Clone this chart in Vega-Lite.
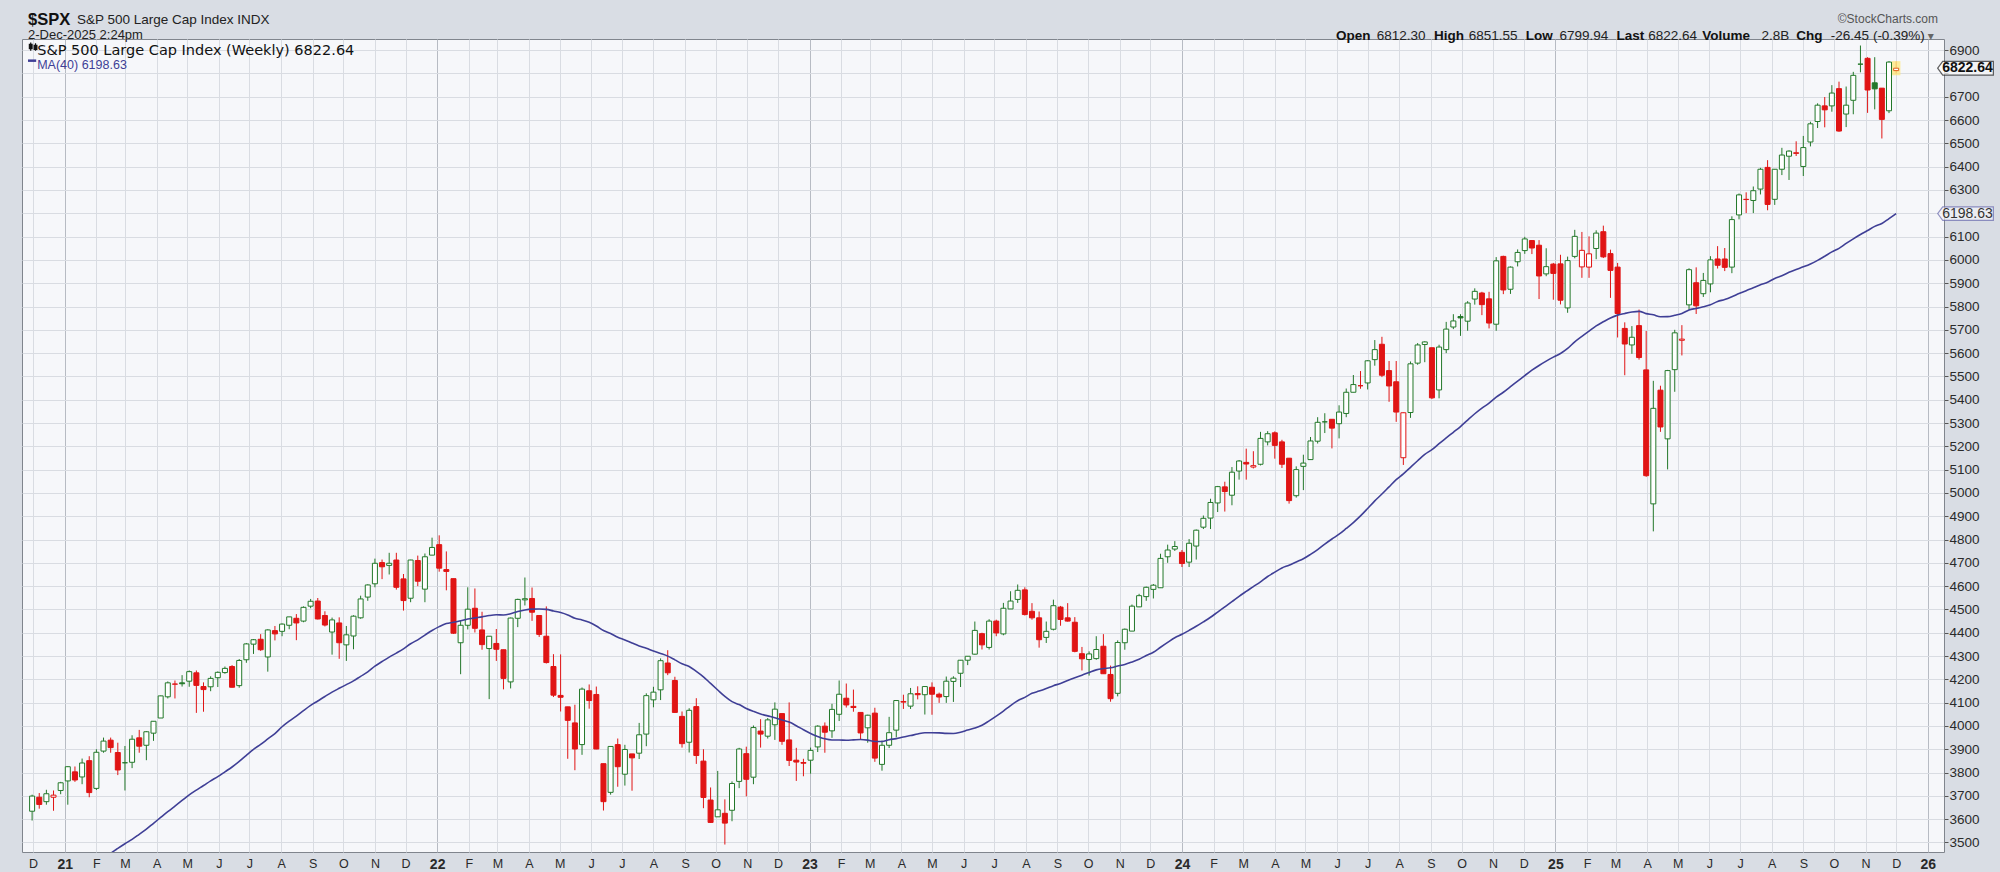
{
  "$schema": "https://vega.github.io/schema/vega-lite/v6.json",
  "width": 1922,
  "height": 813,
  "autosize": "none",
  "padding": {"left": 22, "top": 39, "right": 56, "bottom": 20},
  "background": "#d9dde4",
  "config": {
    "view": {"fill": "#f6f7fa", "stroke": "#80858d", "strokeWidth": 1},
    "font": "Liberation Sans",
    "text": {"font": "Liberation Sans"},
    "axisY": {"format": "d", "tickCount": 35, "labelOverlap": false, "labelExpr": "datum.value == 6800 || datum.value == 6200 ? '' : datum.label"},
    "axisX": {"labelOverlap": false}
  },
  "datasets": {
    "spx": [
      {"d":"2020-11-30","o":3634,"h":3705,"l":3594,"c":3699},
      {"d":"2020-12-07","o":3694,"h":3712,"l":3645,"c":3663},
      {"d":"2020-12-14","o":3675,"h":3726,"l":3662,"c":3709},
      {"d":"2020-12-21","o":3694,"h":3723,"l":3636,"c":3703},
      {"d":"2020-12-28","o":3723,"h":3760,"l":3707,"c":3756},
      {"d":"2021-01-04","o":3764,"h":3827,"l":3662,"c":3825},
      {"d":"2021-01-11","o":3803,"h":3826,"l":3760,"c":3768},
      {"d":"2021-01-18","o":3781,"h":3860,"l":3750,"c":3841},
      {"d":"2021-01-25","o":3851,"h":3870,"l":3694,"c":3714},
      {"d":"2021-02-01","o":3732,"h":3900,"l":3725,"c":3887},
      {"d":"2021-02-08","o":3892,"h":3950,"l":3885,"c":3935,"ma":3427.0},
      {"d":"2021-02-15","o":3939,"h":3950,"l":3885,"c":3907,"ma":3453.1},
      {"d":"2021-02-22","o":3886,"h":3928,"l":3789,"c":3811,"ma":3474.5},
      {"d":"2021-03-01","o":3842,"h":3914,"l":3723,"c":3842,"ma":3494.4},
      {"d":"2021-03-08","o":3844,"h":3960,"l":3819,"c":3943,"ma":3513.2},
      {"d":"2021-03-15","o":3949,"h":3983,"l":3885,"c":3913,"ma":3535.0},
      {"d":"2021-03-22","o":3917,"h":3978,"l":3853,"c":3975,"ma":3556.9},
      {"d":"2021-03-29","o":3969,"h":4020,"l":3936,"c":4020,"ma":3582.2},
      {"d":"2021-04-05","o":4034,"h":4130,"l":4034,"c":4129,"ma":3607.1},
      {"d":"2021-04-12","o":4125,"h":4191,"l":4118,"c":4185,"ma":3632.1},
      {"d":"2021-04-19","o":4179,"h":4195,"l":4118,"c":4180,"ma":3656.0},
      {"d":"2021-04-26","o":4185,"h":4218,"l":4169,"c":4181,"ma":3680.1},
      {"d":"2021-05-03","o":4192,"h":4238,"l":4168,"c":4233,"ma":3704.2},
      {"d":"2021-05-10","o":4228,"h":4238,"l":4056,"c":4174,"ma":3724.8},
      {"d":"2021-05-17","o":4169,"h":4187,"l":4061,"c":4156,"ma":3744.3},
      {"d":"2021-05-24","o":4168,"h":4213,"l":4149,"c":4204,"ma":3764.5},
      {"d":"2021-05-31","o":4207,"h":4234,"l":4167,"c":4230,"ma":3782.6},
      {"d":"2021-06-07","o":4229,"h":4255,"l":4224,"c":4247,"ma":3803.1},
      {"d":"2021-06-14","o":4255,"h":4261,"l":4165,"c":4166,"ma":3823.7},
      {"d":"2021-06-21","o":4173,"h":4287,"l":4164,"c":4281,"ma":3847.7},
      {"d":"2021-06-28","o":4284,"h":4356,"l":4271,"c":4352,"ma":3874.1},
      {"d":"2021-07-05","o":4351,"h":4373,"l":4309,"c":4370,"ma":3899.6},
      {"d":"2021-07-12","o":4372,"h":4394,"l":4322,"c":4327,"ma":3920.9},
      {"d":"2021-07-19","o":4296,"h":4415,"l":4233,"c":4412,"ma":3944.1},
      {"d":"2021-07-26","o":4409,"h":4429,"l":4367,"c":4395,"ma":3967.3},
      {"d":"2021-08-02","o":4406,"h":4440,"l":4385,"c":4437,"ma":3996.5},
      {"d":"2021-08-09","o":4432,"h":4468,"l":4415,"c":4468,"ma":4020.5},
      {"d":"2021-08-16","o":4462,"h":4480,"l":4368,"c":4442,"ma":4041.9},
      {"d":"2021-08-23","o":4450,"h":4513,"l":4445,"c":4509,"ma":4065.7},
      {"d":"2021-08-30","o":4514,"h":4545,"l":4505,"c":4535,"ma":4088.1},
      {"d":"2021-09-06","o":4536,"h":4549,"l":4457,"c":4459,"ma":4107.1},
      {"d":"2021-09-13","o":4474,"h":4492,"l":4427,"c":4433,"ma":4126.4},
      {"d":"2021-09-20","o":4403,"h":4465,"l":4306,"c":4455,"ma":4145.0},
      {"d":"2021-09-27","o":4442,"h":4466,"l":4288,"c":4357,"ma":4161.4},
      {"d":"2021-10-04","o":4348,"h":4429,"l":4279,"c":4391,"ma":4177.2},
      {"d":"2021-10-11","o":4386,"h":4475,"l":4329,"c":4471,"ma":4193.4},
      {"d":"2021-10-18","o":4464,"h":4559,"l":4460,"c":4545,"ma":4212.8},
      {"d":"2021-10-25","o":4553,"h":4608,"l":4537,"c":4605,"ma":4231.9},
      {"d":"2021-11-01","o":4610,"h":4718,"l":4595,"c":4698,"ma":4256.5},
      {"d":"2021-11-08","o":4701,"h":4714,"l":4630,"c":4683,"ma":4276.4},
      {"d":"2021-11-15","o":4689,"h":4743,"l":4650,"c":4698,"ma":4295.5},
      {"d":"2021-11-22","o":4712,"h":4743,"l":4585,"c":4595,"ma":4312.7},
      {"d":"2021-11-29","o":4631,"h":4652,"l":4495,"c":4538,"ma":4330.9},
      {"d":"2021-12-06","o":4548,"h":4713,"l":4531,"c":4712,"ma":4352.6},
      {"d":"2021-12-13","o":4710,"h":4731,"l":4600,"c":4621,"ma":4369.6},
      {"d":"2021-12-20","o":4587,"h":4740,"l":4531,"c":4726,"ma":4389.9},
      {"d":"2021-12-27","o":4733,"h":4808,"l":4733,"c":4766,"ma":4409.7},
      {"d":"2022-01-03","o":4778,"h":4818,"l":4662,"c":4677,"ma":4426.1},
      {"d":"2022-01-10","o":4671,"h":4749,"l":4582,"c":4663,"ma":4439.4},
      {"d":"2022-01-17","o":4632,"h":4632,"l":4395,"c":4398,"ma":4444.8},
      {"d":"2022-01-24","o":4357,"h":4453,"l":4222,"c":4432,"ma":4451.1},
      {"d":"2022-01-31","o":4432,"h":4595,"l":4414,"c":4501,"ma":4459.1},
      {"d":"2022-02-07","o":4505,"h":4590,"l":4401,"c":4419,"ma":4463.7},
      {"d":"2022-02-14","o":4412,"h":4490,"l":4327,"c":4349,"ma":4468.1},
      {"d":"2022-02-21","o":4332,"h":4385,"l":4115,"c":4385,"ma":4473.8},
      {"d":"2022-02-28","o":4354,"h":4416,"l":4279,"c":4329,"ma":4476.9},
      {"d":"2022-03-07","o":4327,"h":4327,"l":4157,"c":4204,"ma":4476.3},
      {"d":"2022-03-14","o":4189,"h":4465,"l":4161,"c":4463,"ma":4481.7},
      {"d":"2022-03-21","o":4462,"h":4546,"l":4424,"c":4543,"ma":4491.1},
      {"d":"2022-03-28","o":4541,"h":4637,"l":4517,"c":4546,"ma":4497.7},
      {"d":"2022-04-04","o":4547,"h":4594,"l":4451,"c":4488,"ma":4501.1},
      {"d":"2022-04-11","o":4474,"h":4474,"l":4382,"c":4393,"ma":4501.7},
      {"d":"2022-04-18","o":4385,"h":4513,"l":4268,"c":4272,"ma":4500.3},
      {"d":"2022-04-25","o":4255,"h":4308,"l":4124,"c":4132,"ma":4493.3},
      {"d":"2022-05-02","o":4131,"h":4307,"l":4062,"c":4123,"ma":4486.5},
      {"d":"2022-05-09","o":4082,"h":4082,"l":3859,"c":4024,"ma":4476.2},
      {"d":"2022-05-16","o":4013,"h":4091,"l":3810,"c":3901,"ma":4462.0},
      {"d":"2022-05-23","o":3920,"h":4165,"l":3876,"c":4158,"ma":4454.9},
      {"d":"2022-05-30","o":4151,"h":4178,"l":4074,"c":4109,"ma":4444.9},
      {"d":"2022-06-06","o":4135,"h":4169,"l":3900,"c":3901,"ma":4429.1},
      {"d":"2022-06-13","o":3838,"h":3838,"l":3637,"c":3675,"ma":4409.5},
      {"d":"2022-06-20","o":3715,"h":3913,"l":3705,"c":3912,"ma":4396.5},
      {"d":"2022-06-27","o":3920,"h":3946,"l":3739,"c":3825,"ma":4380.7},
      {"d":"2022-07-04","o":3793,"h":3919,"l":3744,"c":3899,"ma":4369.3},
      {"d":"2022-07-11","o":3880,"h":3880,"l":3722,"c":3863,"ma":4356.1},
      {"d":"2022-07-18","o":3883,"h":4013,"l":3858,"c":3962,"ma":4343.3},
      {"d":"2022-07-25","o":3965,"h":4140,"l":3913,"c":4130,"ma":4333.0},
      {"d":"2022-08-01","o":4112,"h":4168,"l":4080,"c":4145,"ma":4321.5},
      {"d":"2022-08-08","o":4155,"h":4290,"l":4111,"c":4280,"ma":4311.0},
      {"d":"2022-08-15","o":4270,"h":4325,"l":4218,"c":4228,"ma":4299.6},
      {"d":"2022-08-22","o":4195,"h":4211,"l":4057,"c":4058,"ma":4283.6},
      {"d":"2022-08-29","o":4041,"h":4062,"l":3907,"c":3924,"ma":4266.9},
      {"d":"2022-09-05","o":3930,"h":4076,"l":3886,"c":4067,"ma":4255.1},
      {"d":"2022-09-12","o":4083,"h":4119,"l":3837,"c":3873,"ma":4234.1},
      {"d":"2022-09-19","o":3849,"h":3900,"l":3647,"c":3693,"ma":4210.9},
      {"d":"2022-09-26","o":3682,"h":3736,"l":3584,"c":3586,"ma":4182.4},
      {"d":"2022-10-03","o":3610,"h":3807,"l":3610,"c":3640,"ma":4154.3},
      {"d":"2022-10-10","o":3625,"h":3685,"l":3491,"c":3583,"ma":4126.9},
      {"d":"2022-10-17","o":3638,"h":3762,"l":3591,"c":3753,"ma":4104.2},
      {"d":"2022-10-24","o":3762,"h":3906,"l":3733,"c":3901,"ma":4091.7},
      {"d":"2022-10-31","o":3881,"h":3911,"l":3698,"c":3771,"ma":4075.2},
      {"d":"2022-11-07","o":3780,"h":4002,"l":3750,"c":3993,"ma":4062.5},
      {"d":"2022-11-14","o":3978,"h":4029,"l":3907,"c":3965,"ma":4051.2},
      {"d":"2022-11-21","o":3956,"h":4034,"l":3946,"c":4026,"ma":4043.1},
      {"d":"2022-11-28","o":4005,"h":4101,"l":3940,"c":4072,"ma":4035.3},
      {"d":"2022-12-05","o":4053,"h":4053,"l":3919,"c":3934,"ma":4025.4},
      {"d":"2022-12-12","o":3940,"h":4101,"l":3828,"c":3852,"ma":4016.6},
      {"d":"2022-12-19","o":3853,"h":3906,"l":3764,"c":3845,"ma":4001.1},
      {"d":"2022-12-26","o":3843,"h":3859,"l":3784,"c":3840,"ma":3983.6},
      {"d":"2023-01-02","o":3853,"h":3907,"l":3795,"c":3895,"ma":3967.3},
      {"d":"2023-01-09","o":3910,"h":4003,"l":3888,"c":3999,"ma":3955.1},
      {"d":"2023-01-16","o":3999,"h":4015,"l":3885,"c":3973,"ma":3944.6},
      {"d":"2023-01-23","o":3979,"h":4095,"l":3949,"c":4071,"ma":3939.5},
      {"d":"2023-01-30","o":4050,"h":4195,"l":4021,"c":4136,"ma":3939.6},
      {"d":"2023-02-06","o":4119,"h":4182,"l":4079,"c":4090,"ma":3938.8},
      {"d":"2023-02-13","o":4084,"h":4156,"l":4061,"c":4079,"ma":3940.2},
      {"d":"2023-02-20","o":4058,"h":4058,"l":3943,"c":3970,"ma":3941.9},
      {"d":"2023-02-27","o":3992,"h":4048,"l":3928,"c":4046,"ma":3939.1},
      {"d":"2023-03-06","o":4055,"h":4078,"l":3846,"c":3862,"ma":3932.9},
      {"d":"2023-03-13","o":3835,"h":3937,"l":3808,"c":3917,"ma":3933.3},
      {"d":"2023-03-20","o":3917,"h":4039,"l":3905,"c":3971,"ma":3940.7},
      {"d":"2023-03-27","o":3982,"h":4110,"l":3951,"c":4109,"ma":3945.7},
      {"d":"2023-04-03","o":4102,"h":4134,"l":4073,"c":4105,"ma":3952.7},
      {"d":"2023-04-10","o":4085,"h":4163,"l":4073,"c":4138,"ma":3958.6},
      {"d":"2023-04-17","o":4139,"h":4170,"l":4114,"c":4134,"ma":3965.4},
      {"d":"2023-04-24","o":4134,"h":4170,"l":4049,"c":4169,"ma":3970.6},
      {"d":"2023-05-01","o":4166,"h":4187,"l":4048,"c":4136,"ma":3970.7},
      {"d":"2023-05-08","o":4136,"h":4143,"l":4099,"c":4124,"ma":3970.2},
      {"d":"2023-05-15","o":4126,"h":4212,"l":4099,"c":4192,"ma":3968.0},
      {"d":"2023-05-22","o":4191,"h":4213,"l":4103,"c":4205,"ma":3967.4},
      {"d":"2023-05-29","o":4226,"h":4283,"l":4167,"c":4282,"ma":3973.0},
      {"d":"2023-06-05","o":4282,"h":4299,"l":4261,"c":4299,"ma":3982.4},
      {"d":"2023-06-12","o":4308,"h":4448,"l":4306,"c":4410,"ma":3991.0},
      {"d":"2023-06-19","o":4396,"h":4400,"l":4328,"c":4348,"ma":4002.9},
      {"d":"2023-06-26","o":4337,"h":4458,"l":4328,"c":4450,"ma":4021.8},
      {"d":"2023-07-03","o":4450,"h":4456,"l":4385,"c":4399,"ma":4042.1},
      {"d":"2023-07-10","o":4395,"h":4528,"l":4389,"c":4505,"ma":4063.7},
      {"d":"2023-07-17","o":4502,"h":4578,"l":4502,"c":4536,"ma":4087.6},
      {"d":"2023-07-24","o":4543,"h":4607,"l":4528,"c":4582,"ma":4108.3},
      {"d":"2023-07-31","o":4584,"h":4595,"l":4474,"c":4478,"ma":4122.7},
      {"d":"2023-08-07","o":4492,"h":4527,"l":4456,"c":4464,"ma":4140.0},
      {"d":"2023-08-14","o":4464,"h":4491,"l":4336,"c":4370,"ma":4149.5},
      {"d":"2023-08-21","o":4380,"h":4448,"l":4356,"c":4406,"ma":4160.5},
      {"d":"2023-08-28","o":4415,"h":4542,"l":4410,"c":4516,"ma":4172.7},
      {"d":"2023-09-04","o":4510,"h":4515,"l":4430,"c":4457,"ma":4182.4},
      {"d":"2023-09-11","o":4464,"h":4527,"l":4448,"c":4450,"ma":4195.3},
      {"d":"2023-09-18","o":4445,"h":4467,"l":4316,"c":4320,"ma":4207.0},
      {"d":"2023-09-25","o":4310,"h":4339,"l":4238,"c":4288,"ma":4218.0},
      {"d":"2023-10-02","o":4285,"h":4320,"l":4216,"c":4309,"ma":4229.8},
      {"d":"2023-10-09","o":4289,"h":4385,"l":4284,"c":4328,"ma":4240.6},
      {"d":"2023-10-16","o":4342,"h":4394,"l":4224,"c":4224,"ma":4246.2},
      {"d":"2023-10-23","o":4221,"h":4259,"l":4104,"c":4117,"ma":4249.8},
      {"d":"2023-10-30","o":4140,"h":4367,"l":4127,"c":4358,"ma":4257.0},
      {"d":"2023-11-06","o":4357,"h":4418,"l":4327,"c":4415,"ma":4264.0},
      {"d":"2023-11-13","o":4407,"h":4521,"l":4407,"c":4514,"ma":4274.6},
      {"d":"2023-11-20","o":4511,"h":4567,"l":4510,"c":4559,"ma":4286.6},
      {"d":"2023-11-27","o":4555,"h":4598,"l":4537,"c":4595,"ma":4302.2},
      {"d":"2023-12-04","o":4586,"h":4609,"l":4547,"c":4604,"ma":4316.1},
      {"d":"2023-12-11","o":4593,"h":4739,"l":4593,"c":4719,"ma":4337.6},
      {"d":"2023-12-18","o":4726,"h":4778,"l":4700,"c":4755,"ma":4358.5},
      {"d":"2023-12-25","o":4759,"h":4793,"l":4751,"c":4770,"ma":4378.5},
      {"d":"2024-01-01","o":4745,"h":4755,"l":4682,"c":4697,"ma":4393.2},
      {"d":"2024-01-08","o":4703,"h":4802,"l":4682,"c":4784,"ma":4410.2},
      {"d":"2024-01-15","o":4772,"h":4843,"l":4714,"c":4840,"ma":4427.7},
      {"d":"2024-01-22","o":4853,"h":4903,"l":4845,"c":4891,"ma":4446.6},
      {"d":"2024-01-29","o":4892,"h":4975,"l":4845,"c":4959,"ma":4466.4},
      {"d":"2024-02-05","o":4957,"h":5030,"l":4918,"c":5027,"ma":4488.7},
      {"d":"2024-02-12","o":5026,"h":5048,"l":4920,"c":5006,"ma":4510.7},
      {"d":"2024-02-19","o":4990,"h":5111,"l":4947,"c":5089,"ma":4533.1},
      {"d":"2024-02-26","o":5094,"h":5141,"l":5057,"c":5137,"ma":4556.4},
      {"d":"2024-03-04","o":5131,"h":5190,"l":5057,"c":5124,"ma":4577.5},
      {"d":"2024-03-11","o":5111,"h":5179,"l":5105,"c":5117,"ma":4597.9},
      {"d":"2024-03-18","o":5123,"h":5262,"l":5118,"c":5234,"ma":4618.5},
      {"d":"2024-03-25","o":5219,"h":5265,"l":5204,"c":5254,"ma":4641.2},
      {"d":"2024-04-01","o":5258,"h":5264,"l":5147,"c":5204,"ma":4660.0},
      {"d":"2024-04-08","o":5219,"h":5228,"l":5107,"c":5123,"ma":4678.1},
      {"d":"2024-04-15","o":5149,"h":5150,"l":4954,"c":4967,"ma":4689.7},
      {"d":"2024-04-22","o":4988,"h":5114,"l":4980,"c":5100,"ma":4703.8},
      {"d":"2024-04-29","o":5114,"h":5164,"l":5012,"c":5128,"ma":4717.4},
      {"d":"2024-05-06","o":5143,"h":5240,"l":5143,"c":5223,"ma":4736.1},
      {"d":"2024-05-13","o":5222,"h":5325,"l":5212,"c":5303,"ma":4757.0},
      {"d":"2024-05-20","o":5305,"h":5342,"l":5257,"c":5305,"ma":4780.4},
      {"d":"2024-05-27","o":5316,"h":5316,"l":5191,"c":5278,"ma":4802.2},
      {"d":"2024-06-03","o":5297,"h":5376,"l":5234,"c":5347,"ma":4823.0},
      {"d":"2024-06-10","o":5341,"h":5448,"l":5325,"c":5432,"ma":4847.4},
      {"d":"2024-06-17","o":5432,"h":5506,"l":5432,"c":5465,"ma":4872.7},
      {"d":"2024-06-24","o":5460,"h":5523,"l":5447,"c":5460,"ma":4901.2},
      {"d":"2024-07-01","o":5472,"h":5570,"l":5444,"c":5567,"ma":4933.2},
      {"d":"2024-07-08","o":5572,"h":5656,"l":5546,"c":5615,"ma":4965.9},
      {"d":"2024-07-15","o":5638,"h":5670,"l":5497,"c":5505,"ma":4995.3},
      {"d":"2024-07-22","o":5525,"h":5566,"l":5391,"c":5459,"ma":5026.2},
      {"d":"2024-07-29","o":5477,"h":5566,"l":5305,"c":5347,"ma":5056.9},
      {"d":"2024-08-05","o":5151,"h":5345,"l":5120,"c":5344,"ma":5081.6},
      {"d":"2024-08-12","o":5345,"h":5564,"l":5322,"c":5554,"ma":5110.0},
      {"d":"2024-08-19","o":5557,"h":5643,"l":5550,"c":5635,"ma":5138.1},
      {"d":"2024-08-26","o":5637,"h":5651,"l":5561,"c":5648,"ma":5165.3},
      {"d":"2024-09-02","o":5623,"h":5623,"l":5403,"c":5408,"ma":5185.6},
      {"d":"2024-09-09","o":5442,"h":5636,"l":5406,"c":5626,"ma":5211.2},
      {"d":"2024-09-16","o":5615,"h":5734,"l":5600,"c":5703,"ma":5235.8},
      {"d":"2024-09-23","o":5712,"h":5767,"l":5703,"c":5738,"ma":5260.3},
      {"d":"2024-09-30","o":5757,"h":5767,"l":5674,"c":5751,"ma":5284.9},
      {"d":"2024-10-07","o":5737,"h":5823,"l":5696,"c":5815,"ma":5312.8},
      {"d":"2024-10-14","o":5832,"h":5878,"l":5808,"c":5865,"ma":5339.8},
      {"d":"2024-10-21","o":5858,"h":5863,"l":5763,"c":5808,"ma":5364.0},
      {"d":"2024-10-28","o":5833,"h":5863,"l":5706,"c":5729,"ma":5385.0},
      {"d":"2024-11-04","o":5724,"h":6012,"l":5696,"c":5996,"ma":5410.9},
      {"d":"2024-11-11","o":6015,"h":6018,"l":5853,"c":5871,"ma":5432.0},
      {"d":"2024-11-18","o":5874,"h":5972,"l":5854,"c":5969,"ma":5456.1},
      {"d":"2024-11-25","o":5992,"h":6045,"l":5972,"c":6032,"ma":5479.7},
      {"d":"2024-12-02","o":6040,"h":6099,"l":6026,"c":6090,"ma":5503.5},
      {"d":"2024-12-09","o":6083,"h":6085,"l":6025,"c":6051,"ma":5526.7},
      {"d":"2024-12-16","o":6063,"h":6085,"l":5832,"c":5931,"ma":5547.0},
      {"d":"2024-12-23","o":5940,"h":6050,"l":5930,"c":5971,"ma":5565.4},
      {"d":"2024-12-30","o":5982,"h":5987,"l":5829,"c":5942,"ma":5582.6},
      {"d":"2025-01-06","o":5983,"h":6022,"l":5809,"c":5827,"ma":5598.2},
      {"d":"2025-01-13","o":5794,"h":6014,"l":5773,"c":5997,"ma":5620.1},
      {"d":"2025-01-20","o":6015,"h":6129,"l":6007,"c":6101,"ma":5648.4},
      {"d":"2025-01-27","o":5970,"h":6120,"l":5923,"c":6041,"ma":5671.9},
      {"d":"2025-02-03","o":5969,"h":6101,"l":5923,"c":6026,"ma":5694.4},
      {"d":"2025-02-10","o":6049,"h":6127,"l":6003,"c":6115,"ma":5716.7},
      {"d":"2025-02-17","o":6121,"h":6147,"l":6008,"c":6013,"ma":5734.4},
      {"d":"2025-02-24","o":6027,"h":6044,"l":5837,"c":5955,"ma":5750.7},
      {"d":"2025-03-03","o":5969,"h":5987,"l":5667,"c":5770,"ma":5763.0},
      {"d":"2025-03-10","o":5706,"h":5732,"l":5505,"c":5639,"ma":5770.3},
      {"d":"2025-03-17","o":5635,"h":5716,"l":5597,"c":5668,"ma":5776.2},
      {"d":"2025-03-24","o":5718,"h":5787,"l":5572,"c":5581,"ma":5779.1},
      {"d":"2025-03-31","o":5528,"h":5695,"l":5069,"c":5074,"ma":5769.4},
      {"d":"2025-04-07","o":4953,"h":5481,"l":4835,"c":5363,"ma":5764.3},
      {"d":"2025-04-14","o":5441,"h":5460,"l":5262,"c":5283,"ma":5756.0},
      {"d":"2025-04-21","o":5232,"h":5528,"l":5101,"c":5525,"ma":5756.5},
      {"d":"2025-04-28","o":5529,"h":5700,"l":5434,"c":5687,"ma":5762.2},
      {"d":"2025-05-05","o":5655,"h":5720,"l":5590,"c":5660,"ma":5770.1},
      {"d":"2025-05-12","o":5807,"h":5964,"l":5786,"c":5958,"ma":5785.4},
      {"d":"2025-05-19","o":5902,"h":5968,"l":5768,"c":5803,"ma":5791.6},
      {"d":"2025-05-26","o":5855,"h":5944,"l":5841,"c":5912,"ma":5798.6},
      {"d":"2025-06-02","o":5897,"h":6016,"l":5861,"c":6000,"ma":5807.4},
      {"d":"2025-06-09","o":6004,"h":6059,"l":5963,"c":5977,"ma":5821.6},
      {"d":"2025-06-16","o":6004,"h":6051,"l":5952,"c":5968,"ma":5830.1},
      {"d":"2025-06-23","o":5969,"h":6187,"l":5943,"c":6173,"ma":5841.9},
      {"d":"2025-06-30","o":6193,"h":6285,"l":6174,"c":6279,"ma":5855.4},
      {"d":"2025-07-07","o":6259,"h":6290,"l":6201,"c":6260,"ma":5868.1},
      {"d":"2025-07-14","o":6255,"h":6315,"l":6201,"c":6297,"ma":5880.2},
      {"d":"2025-07-21","o":6304,"h":6395,"l":6281,"c":6389,"ma":5893.3},
      {"d":"2025-07-28","o":6397,"h":6428,"l":6213,"c":6238,"ma":5904.0},
      {"d":"2025-08-04","o":6260,"h":6390,"l":6236,"c":6389,"ma":5920.5},
      {"d":"2025-08-11","o":6389,"h":6481,"l":6364,"c":6450,"ma":5931.9},
      {"d":"2025-08-18","o":6445,"h":6470,"l":6343,"c":6467,"ma":5946.8},
      {"d":"2025-08-25","o":6457,"h":6509,"l":6446,"c":6460,"ma":5959.1},
      {"d":"2025-09-01","o":6401,"h":6532,"l":6360,"c":6482,"ma":5970.3},
      {"d":"2025-09-08","o":6506,"h":6593,"l":6487,"c":6584,"ma":5982.7},
      {"d":"2025-09-15","o":6594,"h":6672,"l":6566,"c":6664,"ma":5998.0},
      {"d":"2025-09-22","o":6661,"h":6699,"l":6569,"c":6644,"ma":6015.8},
      {"d":"2025-09-29","o":6661,"h":6750,"l":6636,"c":6716,"ma":6034.4},
      {"d":"2025-10-06","o":6735,"h":6765,"l":6550,"c":6553,"ma":6049.7},
      {"d":"2025-10-13","o":6626,"h":6744,"l":6570,"c":6664,"ma":6070.6},
      {"d":"2025-10-20","o":6685,"h":6807,"l":6625,"c":6792,"ma":6090.5},
      {"d":"2025-10-27","o":6840,"h":6920,"l":6805,"c":6840,"ma":6109.0},
      {"d":"2025-11-03","o":6865,"h":6870,"l":6631,"c":6729,"ma":6126.2},
      {"d":"2025-11-10","o":6760,"h":6870,"l":6646,"c":6734,"ma":6143.9},
      {"d":"2025-11-17","o":6737,"h":6737,"l":6521,"c":6603,"ma":6156.1},
      {"d":"2025-11-24","o":6640,"h":6853,"l":6630,"c":6849,"ma":6177.0},
      {"d":"2025-12-01","o":6812.30,"h":6851.55,"l":6799.94,"c":6822.64,"ma":6198.63}
    ]
  },
  "data": {"name": "spx"},
  "transform": [
    {"window": [{"op": "lag", "field": "c", "as": "pc"}], "sort": [{"field": "d", "order": "ascending"}]}
  ],
  "layer": [
    {
      "mark": {"type": "rule", "strokeWidth": 1},
      "encoding": {
        "x": {
          "field": "d",
          "type": "temporal",
          "scale": {"domain": [{"year": 2020, "month": "nov", "date": 25}, {"year": 2026, "month": "jan", "date": 12}], "nice": false},
          "axis": {
            "orient": "bottom",
            "title": null,
            "tickCount": {"interval": "month", "step": 1},
            "labelExpr": "month(datum.value) == 0 ? timeFormat(datum.value, '%y') : substring(timeFormat(datum.value, '%b'), 0, 1)",
            "labelFontWeight": {"condition": {"test": "month(datum.value) == 0", "value": "bold"}, "value": "normal"},
            "labelFontSize": {"condition": {"test": "month(datum.value) == 0", "value": 14}, "value": 12.5},
            "labelColor": "#2a2a2a",
            "labelFont": "Liberation Sans",
            "labelPadding": 5,
            "labelOverlap": false,
            "labelFlush": false,
            "domain": false,
            "ticks": false,
            "grid": true,
            "gridColor": {"condition": {"test": "month(datum.value) == 0", "value": "#b7bbc3"}, "value": "#d9dce2"},
            "gridWidth": 1
          }
        },
        "y": {
          "field": "l",
          "type": "quantitative",
          "scale": {"domain": [3459, 6948], "nice": false, "zero": false},
          "axis": {
            "orient": "right",
            "title": null,
            "values": [3500, 3600, 3700, 3800, 3900, 4000, 4100, 4200, 4300, 4400, 4500, 4600, 4700, 4800, 4900, 5000, 5100, 5200, 5300, 5400, 5500, 5600, 5700, 5800, 5900, 6000, 6100, 6200, 6300, 6400, 6500, 6600, 6700, 6800, 6900],
            "format": "d",
            "labelExpr": "datum.value == 6800 || datum.value == 6200 ? '' : datum.label",
            "grid": true,
            "gridColor": "#d9dce2",
            "domain": false,
            "tickSize": 4,
            "tickColor": "#555555",
            "labelFont": "Liberation Sans",
            "labelFontSize": 13.5,
            "labelColor": "#2a2a2a",
            "labelPadding": 1,
            "labelOverlap": false,
            "labelFlush": false
          }
        },
        "y2": {"field": "h"},
        "color": {
          "condition": [
            {"test": "utcyear(datum.d) == 2025 && utcmonth(datum.d) == 11", "value": "#e2601c"},
            {"test": "datum.pc == null || datum.c >= datum.pc", "value": "#23782a"}
          ],
          "value": "#e01414"
        }
      }
    },
    {
      "transform": [{"filter": "utcyear(datum.d) == 2025 && utcmonth(datum.d) == 11"}],
      "mark": {"type": "point", "shape": "M-0.6,-1H0.6V1H-0.6Z", "size": 200, "filled": true, "color": "#ffe77a", "opacity": 0.75},
      "encoding": {
        "x": {"field": "d", "type": "temporal"},
        "y": {"field": "c", "type": "quantitative"}
      }
    },
    {
      "mark": {"type": "bar", "width": 5, "strokeWidth": 1},
      "encoding": {
        "x": {"field": "d", "type": "temporal"},
        "y": {"field": "o", "type": "quantitative"},
        "y2": {"field": "c"},
        "fill": {
          "condition": [
            {"test": "datum.c > datum.o", "value": "#ffffff"},
            {"test": "datum.pc == null || datum.c >= datum.pc", "value": "#23782a"}
          ],
          "value": "#e01414"
        },
        "stroke": {
          "condition": [
            {"test": "utcyear(datum.d) == 2025 && utcmonth(datum.d) == 11", "value": "#e2601c"},
            {"test": "datum.pc == null || datum.c >= datum.pc", "value": "#23782a"}
          ],
          "value": "#e01414"
        }
      }
    },
    {
      "mark": {"type": "line", "clip": true, "strokeWidth": 1.6, "color": "#3f3f96", "interpolate": "monotone"},
      "encoding": {
        "x": {"field": "d", "type": "temporal"},
        "y": {"field": "ma", "type": "quantitative"}
      }
    },
    {
      "data": {"values": [{}]},
      "mark": {"type": "text", "text": "$SPX", "fontSize": 16.5, "fontWeight": "bold", "color": "#111111", "align": "left"},
      "encoding": {
        "x": {"datum": {"year": 2020, "month": "nov", "date": 26}, "type": "temporal"},
        "y": {"datum": 7031, "type": "quantitative"}
      }
    },
    {
      "data": {"values": [{}]},
      "mark": {"type": "text", "text": "S&P 500 Large Cap Index INDX", "fontSize": 13.5, "color": "#222222", "align": "left"},
      "encoding": {
        "x": {"datum": {"year": 2021, "month": "jan", "date": 13}, "type": "temporal"},
        "y": {"datum": 7031, "type": "quantitative"}
      }
    },
    {
      "data": {"values": [{}]},
      "mark": {"type": "text", "text": "2-Dec-2025 2:24pm", "fontSize": 13, "color": "#222222", "align": "left"},
      "encoding": {
        "x": {"datum": {"year": 2020, "month": "nov", "date": 26}, "type": "temporal"},
        "y": {"datum": 6966, "type": "quantitative"}
      }
    },
    {
      "data": {"values": [{}]},
      "mark": {"type": "text", "text": "©StockCharts.com", "fontSize": 12, "color": "#555555", "align": "right"},
      "encoding": {
        "x": {"datum": {"year": 2026, "month": "jan", "date": 11}, "type": "temporal"},
        "y": {"datum": 7035, "type": "quantitative"}
      }
    },
    {
      "data": {"values": [{}]},
      "mark": {"type": "text", "text": "Open", "fontSize": 13.5, "fontWeight": "bold", "color": "#111111", "align": "left"},
      "encoding": {
        "x": {"datum": {"year": 2024, "month": "may", "date": 31}, "type": "temporal"},
        "y": {"datum": 6962, "type": "quantitative"}
      }
    },
    {
      "data": {"values": [{}]},
      "mark": {"type": "text", "text": "6812.30", "fontSize": 13.5, "color": "#222222", "align": "left"},
      "encoding": {
        "x": {"datum": {"year": 2024, "month": "jul", "date": 10}, "type": "temporal"},
        "y": {"datum": 6962, "type": "quantitative"}
      }
    },
    {
      "data": {"values": [{}]},
      "mark": {"type": "text", "text": "High", "fontSize": 13.5, "fontWeight": "bold", "color": "#111111", "align": "left"},
      "encoding": {
        "x": {"datum": {"year": 2024, "month": "sep", "date": 4}, "type": "temporal"},
        "y": {"datum": 6962, "type": "quantitative"}
      }
    },
    {
      "data": {"values": [{}]},
      "mark": {"type": "text", "text": "6851.55", "fontSize": 13.5, "color": "#222222", "align": "left"},
      "encoding": {
        "x": {"datum": {"year": 2024, "month": "oct", "date": 8}, "type": "temporal"},
        "y": {"datum": 6962, "type": "quantitative"}
      }
    },
    {
      "data": {"values": [{}]},
      "mark": {"type": "text", "text": "Low", "fontSize": 13.5, "fontWeight": "bold", "color": "#111111", "align": "left"},
      "encoding": {
        "x": {"datum": {"year": 2024, "month": "dec", "date": 3}, "type": "temporal"},
        "y": {"datum": 6962, "type": "quantitative"}
      }
    },
    {
      "data": {"values": [{}]},
      "mark": {"type": "text", "text": "6799.94", "fontSize": 13.5, "color": "#222222", "align": "left"},
      "encoding": {
        "x": {"datum": {"year": 2025, "month": "jan", "date": 5}, "type": "temporal"},
        "y": {"datum": 6962, "type": "quantitative"}
      }
    },
    {
      "data": {"values": [{}]},
      "mark": {"type": "text", "text": "Last", "fontSize": 13.5, "fontWeight": "bold", "color": "#111111", "align": "left"},
      "encoding": {
        "x": {"datum": {"year": 2025, "month": "mar", "date": 2}, "type": "temporal"},
        "y": {"datum": 6962, "type": "quantitative"}
      }
    },
    {
      "data": {"values": [{}]},
      "mark": {"type": "text", "text": "6822.64", "fontSize": 13.5, "color": "#222222", "align": "left"},
      "encoding": {
        "x": {"datum": {"year": 2025, "month": "apr", "date": 2}, "type": "temporal"},
        "y": {"datum": 6962, "type": "quantitative"}
      }
    },
    {
      "data": {"values": [{}]},
      "mark": {"type": "text", "text": "Volume", "fontSize": 13.5, "fontWeight": "bold", "color": "#111111", "align": "left"},
      "encoding": {
        "x": {"datum": {"year": 2025, "month": "may", "date": 25}, "type": "temporal"},
        "y": {"datum": 6962, "type": "quantitative"}
      }
    },
    {
      "data": {"values": [{}]},
      "mark": {"type": "text", "text": "2.8B", "fontSize": 13.5, "color": "#222222", "align": "left"},
      "encoding": {
        "x": {"datum": {"year": 2025, "month": "jul", "date": 22}, "type": "temporal"},
        "y": {"datum": 6962, "type": "quantitative"}
      }
    },
    {
      "data": {"values": [{}]},
      "mark": {"type": "text", "text": "Chg", "fontSize": 13.5, "fontWeight": "bold", "color": "#111111", "align": "left"},
      "encoding": {
        "x": {"datum": {"year": 2025, "month": "aug", "date": 25}, "type": "temporal"},
        "y": {"datum": 6962, "type": "quantitative"}
      }
    },
    {
      "data": {"values": [{}]},
      "mark": {"type": "text", "text": "-26.45 (-0.39%)", "fontSize": 13.5, "color": "#222222", "align": "left"},
      "encoding": {
        "x": {"datum": {"year": 2025, "month": "sep", "date": 28}, "type": "temporal"},
        "y": {"datum": 6962, "type": "quantitative"}
      }
    },
    {
      "data": {"values": [{}]},
      "mark": {"type": "text", "text": "▾", "font": "DejaVu Sans", "fontSize": 12, "color": "#666666", "align": "left"},
      "encoding": {
        "x": {"datum": {"year": 2026, "month": "jan", "date": 1}, "type": "temporal"},
        "y": {"datum": 6962, "type": "quantitative"}
      }
    },
    {
      "data": {"values": [{}]},
      "mark": {"type": "point", "shape": "M-0.9,-0.55H-0.25V0.45H-0.9Z M-0.575,-1V1 M0.25,-0.35H0.9V0.65H0.25Z M0.575,-0.85V1", "size": 70, "filled": false, "stroke": "#111111", "strokeWidth": 1.2, "fill": "#111111", "fillOpacity": 1},
      "encoding": {
        "x": {"datum": {"year": 2020, "month": "dec", "date": 1}, "type": "temporal"},
        "y": {"datum": 6915, "type": "quantitative"}
      }
    },
    {
      "data": {"values": [{}]},
      "mark": {"type": "text", "text": "S&P 500 Large Cap Index (Weekly) 6822.64", "font": "DejaVu Sans", "fontSize": 14.5, "color": "#111111", "align": "left"},
      "encoding": {
        "x": {"datum": {"year": 2020, "month": "dec", "date": 5}, "type": "temporal"},
        "y": {"datum": 6895, "type": "quantitative"}
      }
    },
    {
      "data": {"values": [{}]},
      "mark": {"type": "rule", "strokeWidth": 2.5, "color": "#3f3f96"},
      "encoding": {
        "x": {"datum": {"year": 2020, "month": "nov", "date": 26}, "type": "temporal"},
        "x2": {"datum": {"year": 2020, "month": "dec", "date": 4}},
        "y": {"datum": 6855, "type": "quantitative"}
      }
    },
    {
      "data": {"values": [{}]},
      "mark": {"type": "text", "text": "MA(40) 6198.63", "fontSize": 12.5, "color": "#3f3f96", "align": "left"},
      "encoding": {
        "x": {"datum": {"year": 2020, "month": "dec", "date": 5}, "type": "temporal"},
        "y": {"datum": 6838, "type": "quantitative"}
      }
    },
    {
      "data": {"values": [{}]},
      "mark": {"type": "point", "shape": "M-1,0L-0.82,-0.245L1,-0.245L1,0.245L-0.82,0.245Z", "size": 3100, "filled": true, "fill": "#ffffff", "stroke": "#222222", "strokeWidth": 1.2},
      "encoding": {
        "x": {"datum": {"year": 2026, "month": "feb", "date": 7}, "type": "temporal"},
        "y": {"datum": 6822.64, "type": "quantitative"}
      }
    },
    {
      "data": {"values": [{}]},
      "mark": {"type": "text", "text": "6822.64", "fontSize": 14, "fontWeight": "bold", "color": "#111111", "align": "center", "baseline": "middle", "dx": 2},
      "encoding": {
        "x": {"datum": {"year": 2026, "month": "feb", "date": 7}, "type": "temporal"},
        "y": {"datum": 6822.64, "type": "quantitative"}
      }
    },
    {
      "data": {"values": [{}]},
      "mark": {"type": "point", "shape": "M-1,0L-0.82,-0.245L1,-0.245L1,0.245L-0.82,0.245Z", "size": 3100, "filled": true, "fill": "#f3f4f9", "stroke": "#6a6aae", "strokeWidth": 1.2},
      "encoding": {
        "x": {"datum": {"year": 2026, "month": "feb", "date": 7}, "type": "temporal"},
        "y": {"datum": 6198.63, "type": "quantitative"}
      }
    },
    {
      "data": {"values": [{}]},
      "mark": {"type": "text", "text": "6198.63", "fontSize": 14, "color": "#333333", "align": "center", "baseline": "middle", "dx": 2},
      "encoding": {
        "x": {"datum": {"year": 2026, "month": "feb", "date": 7}, "type": "temporal"},
        "y": {"datum": 6198.63, "type": "quantitative"}
      }
    }
  ]
}
